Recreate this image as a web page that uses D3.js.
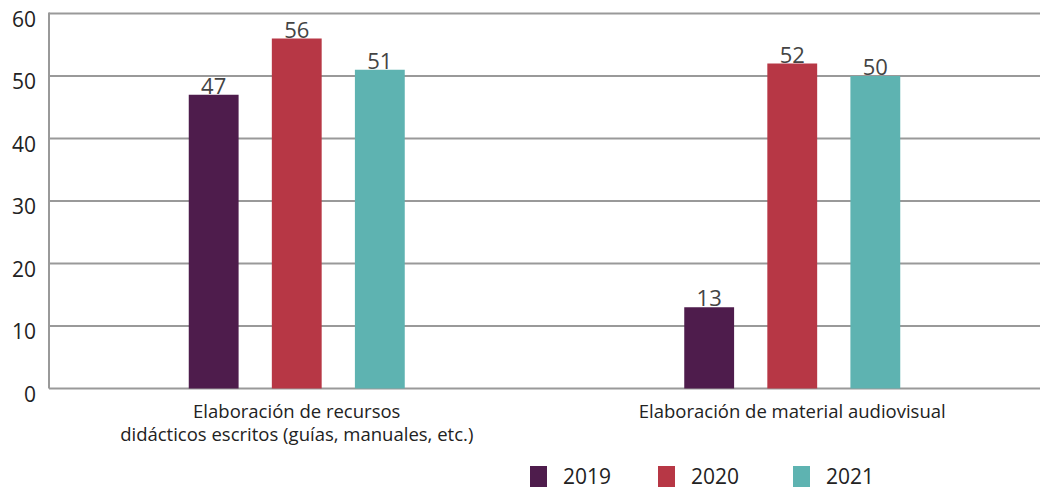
<!DOCTYPE html>
<html><head><meta charset="utf-8">
<script src="https://cdn.jsdelivr.net/npm/d3@7"></script>
<style>body{margin:0;background:#fff;}svg{display:block;font-family:"Open Sans",sans-serif;}</style>
</head><body>
<svg id="c" width="1040" height="490"></svg>
<script>
const categories = [["Elaboración de recursos","didácticos escritos (guías, manuales, etc.)"],["Elaboración de material audiovisual"]];
const series = ["2019","2020","2021"];
const values2019 = [47, 13];
const values2020 = [56, 52];
const values2021 = [51, 50];
const colors = ["#4E1C4C", "#B73745", "#5EB3B1"];
const yTicks = [0,10,20,30,40,50,60];

const allValues = [values2019, values2020, values2021];
const svg = d3.select("#c");
const m = {left:49, right:0, top:13.5, bottom:101.5};
const W = 1040, H = 490;
const x0 = d3.scaleBand().domain(d3.range(categories.length)).range([m.left, W - m.right]).padding(0);
const x1 = d3.scaleBand().domain(series).range([0, 216]).paddingInner(0.4).paddingOuter(0);
const y = d3.scaleLinear().domain([0,60]).range([H - m.bottom, m.top]);

// gridlines
svg.append("g").selectAll("line").data(yTicks.filter(d=>d>0)).join("line")
  .attr("x1", m.left).attr("x2", W).attr("y1", d=>y(d)).attr("y2", d=>y(d))
  .attr("stroke", "#999").attr("stroke-width", 2);
// axis lines
svg.append("line").attr("x1", m.left).attr("x2", m.left).attr("y1", y(60)-1).attr("y2", y(0))
  .attr("stroke", "#999").attr("stroke-width", 2);
svg.append("line").attr("x1", m.left).attr("x2", W).attr("y1", y(0)).attr("y2", y(0))
  .attr("stroke", "#999").attr("stroke-width", 2);

// y labels
svg.append("g").selectAll("text").data(yTicks).join("text")
  .attr("x", 36).attr("y", d=>y(d)+13).attr("text-anchor","end")
  .attr("font-size", 21).attr("fill", "#222").text(d=>d);

// bars
const groups = svg.append("g").selectAll("g").data(categories.map((c,i)=>i)).join("g")
  .attr("transform", i => `translate(${x0(i) + x0.bandwidth()/2 - 108},0)`);
series.forEach((s, si) => {
  groups.append("rect")
    .attr("x", x1(s)).attr("width", x1.bandwidth())
    .attr("y", i => y(allValues[si][i])).attr("height", i => y(0) - y(allValues[si][i]))
    .attr("fill", colors[si]);
  groups.append("text")
    .attr("x", x1(s) + x1.bandwidth()/2).attr("y", i => y(allValues[si][i]) - 1)
    .attr("text-anchor","middle").attr("font-size", 22).attr("fill", "#444")
    .text(i => allValues[si][i]);
});

// category labels
const cl = svg.append("g").selectAll("text").data(categories).join("text")
  .attr("x", (d,i) => x0(i) + x0.bandwidth()/2).attr("y", 418)
  .attr("text-anchor","middle").attr("font-size", 18.5).attr("fill", "#222");
cl.selectAll("tspan").data(d=>d).join("tspan")
  .attr("x", function(){ return this.parentNode.getAttribute("x"); })
  .attr("dy", (d,j)=> j===0 ? 0 : 23).text(d=>d);

// legend
const legX = [530, 658, 793];
const lg = svg.append("g").selectAll("g").data(series).join("g")
  .attr("transform", (d,i)=>`translate(${legX[i]},466)`);
lg.append("rect").attr("width", 17).attr("height", 21).attr("fill", (d,i)=>colors[i]);
lg.append("text").attr("x", 33).attr("y", 18).attr("font-size", 21).attr("fill", "#222").text(d=>d);
</script>
</body></html>
